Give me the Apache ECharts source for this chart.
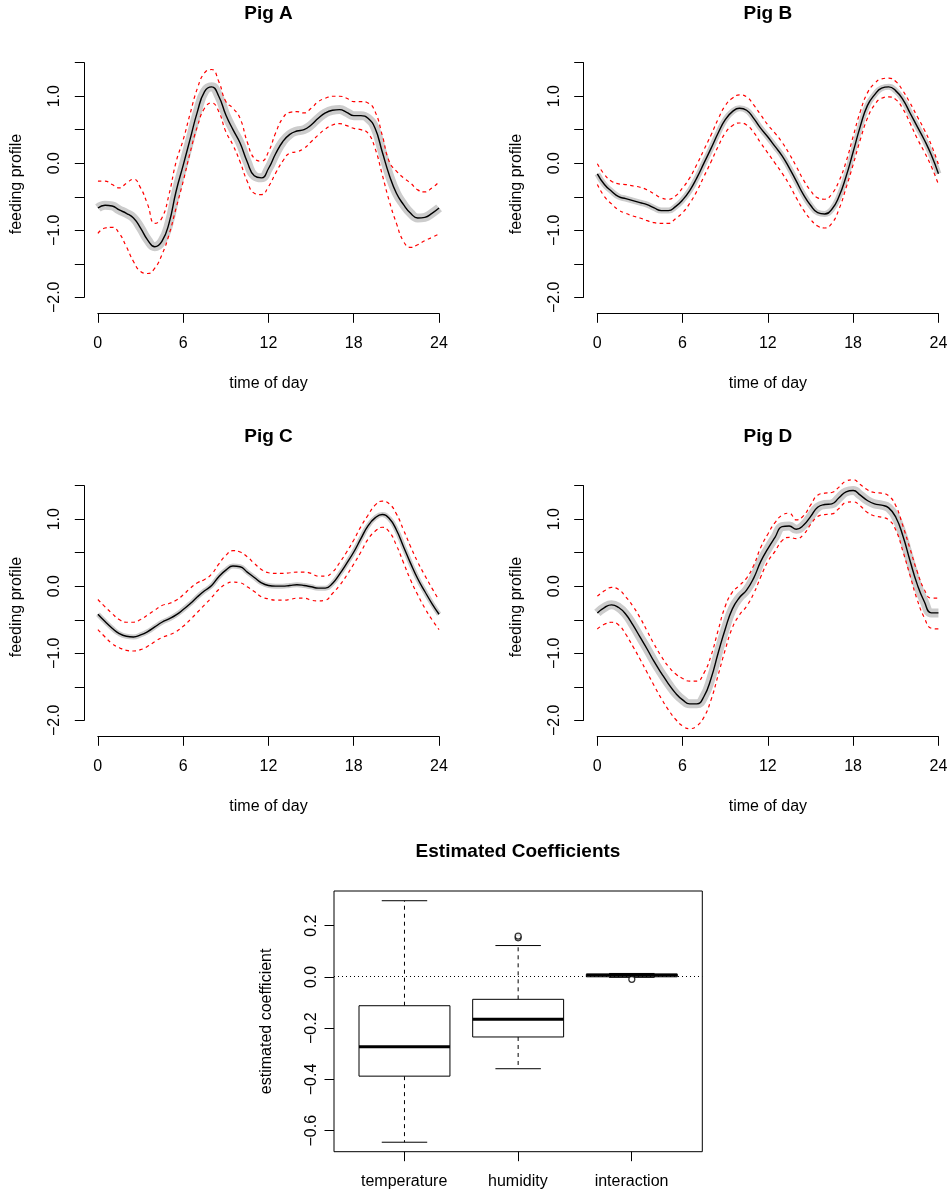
<!DOCTYPE html>
<html>
<head>
<meta charset="utf-8">
<title>Pig feeding profiles</title>
<script src="https://cdn.jsdelivr.net/npm/echarts@6.0.0/dist/echarts.min.js"></script>
<style>
  html, body { margin: 0; padding: 0; background: #fff; }
  #main { width: 952px; height: 1194px; }
</style>
</head>
<body>
<div id="main"></div>
<script>
// time of day (hours), read every half hour
const hours = [0, 0.5, 1, 1.5, 2, 2.5, 3, 3.5, 4, 4.5, 5, 5.5, 6, 6.5, 7, 7.5, 8, 8.5, 9, 9.5,
  10, 10.5, 11, 11.5, 12, 12.5, 13, 13.5, 14, 14.5, 15, 15.5, 16, 16.5, 17, 17.5, 18, 18.5, 19, 19.5,
  20, 20.5, 21, 21.5, 22, 22.5, 23, 23.5, 24];

// Pig A: estimate and dashed bounds
const meanA = [-0.67, -0.63, -0.64, -0.7, -0.75, -0.82, -0.97, -1.15, -1.25, -1.17,
  -0.9, -0.42, -0.03, 0.37, 0.77, 1.07, 1.14, 1.0, 0.72, 0.5,
  0.3, 0.02, -0.19, -0.22, -0.08, 0.14, 0.32, 0.43, 0.48, 0.5,
  0.57, 0.67, 0.75, 0.79, 0.8, 0.76, 0.71, 0.71, 0.67, 0.52,
  0.17, -0.18, -0.45, -0.62, -0.75, -0.82, -0.81, -0.75, -0.67];
const upperA = [-0.27, -0.27, -0.32, -0.37, -0.3, -0.24, -0.37, -0.62, -0.9, -0.82,
  -0.47, 0.02, 0.35, 0.75, 1.12, 1.35, 1.4, 1.22, 0.92, 0.82,
  0.67, 0.32, 0.07, 0.03, 0.17, 0.45, 0.67, 0.76, 0.77, 0.75,
  0.82, 0.92, 0.97, 1.0, 1.0, 0.97, 0.92, 0.92, 0.9, 0.77,
  0.42, 0.02, -0.12, -0.22, -0.3, -0.4, -0.43, -0.37, -0.28];
const lowerA = [-1.05, -0.97, -0.96, -1.05, -1.25, -1.47, -1.62, -1.65, -1.57, -1.37,
  -1.07, -0.67, -0.27, 0.17, 0.55, 0.82, 0.9, 0.77, 0.47, 0.27,
  0.02, -0.27, -0.45, -0.47, -0.35, -0.15, 0.03, 0.15, 0.17, 0.22,
  0.32, 0.42, 0.51, 0.57, 0.59, 0.56, 0.52, 0.5, 0.45, 0.22,
  -0.17, -0.57, -0.9, -1.17, -1.26, -1.22, -1.16, -1.11, -1.06];

// Pig B
const meanB = [-0.16, -0.32, -0.42, -0.5, -0.53, -0.56, -0.59, -0.62, -0.67, -0.71,
  -0.71, -0.65, -0.55, -0.41, -0.22, 0.0, 0.22, 0.45, 0.65, 0.77,
  0.82, 0.79, 0.67, 0.52, 0.39, 0.25, 0.11, -0.07, -0.27, -0.47,
  -0.63, -0.74, -0.76, -0.69, -0.5, -0.2, 0.17, 0.55, 0.86, 1.02,
  1.12, 1.14, 1.08, 0.95, 0.75, 0.55, 0.35, 0.12, -0.16];
const upperB = [-0.01, -0.17, -0.27, -0.31, -0.32, -0.34, -0.36, -0.4, -0.46, -0.52,
  -0.54, -0.49, -0.37, -0.22, -0.02, 0.2, 0.42, 0.66, 0.86, 0.97,
  1.02, 0.99, 0.87, 0.72, 0.57, 0.45, 0.31, 0.14, -0.05, -0.25,
  -0.41, -0.52, -0.54, -0.46, -0.27, 0.02, 0.4, 0.77, 1.05, 1.19,
  1.26, 1.27, 1.22, 1.08, 0.9, 0.7, 0.5, 0.27, -0.02];
const lowerB = [-0.32, -0.5, -0.61, -0.7, -0.75, -0.79, -0.82, -0.86, -0.89, -0.9,
  -0.9, -0.83, -0.74, -0.6, -0.42, -0.2, 0.02, 0.25, 0.45, 0.56,
  0.6, 0.57, 0.46, 0.3, 0.15, 0.0, -0.15, -0.32, -0.52, -0.7,
  -0.84, -0.94, -0.97, -0.9, -0.69, -0.37, -0.02, 0.35, 0.67, 0.87,
  0.97, 0.99, 0.95, 0.81, 0.6, 0.37, 0.17, -0.05, -0.32];

// Pig C
const meanC = [-0.42, -0.53, -0.63, -0.71, -0.75, -0.76, -0.73, -0.68, -0.61, -0.54,
  -0.49, -0.43, -0.35, -0.26, -0.16, -0.07, 0.01, 0.14, 0.24, 0.3,
  0.29, 0.21, 0.13, 0.05, 0.01, 0.0, 0.0, 0.01, 0.02, 0.01,
  -0.01, -0.03, -0.03, 0.04, 0.18, 0.34, 0.51, 0.71, 0.9, 1.02,
  1.07, 1.01, 0.84, 0.59, 0.34, 0.11, -0.08, -0.26, -0.42];
const upperC = [-0.2, -0.31, -0.41, -0.5, -0.54, -0.54, -0.5, -0.43, -0.36, -0.29,
  -0.26, -0.21, -0.13, -0.03, 0.05, 0.1, 0.18, 0.33, 0.46, 0.53,
  0.51, 0.44, 0.34, 0.25, 0.2, 0.19, 0.19, 0.2, 0.21, 0.21,
  0.19, 0.15, 0.15, 0.21, 0.35, 0.51, 0.69, 0.89, 1.06, 1.21,
  1.27, 1.23, 1.08, 0.84, 0.59, 0.36, 0.16, -0.03, -0.21];
const lowerC = [-0.65, -0.76, -0.86, -0.92, -0.96, -0.97, -0.95, -0.9, -0.83, -0.77,
  -0.73, -0.68, -0.6, -0.5, -0.39, -0.28, -0.17, -0.05, 0.03, 0.06,
  0.05, -0.01, -0.08, -0.16, -0.19, -0.21, -0.21, -0.2, -0.18, -0.18,
  -0.21, -0.22, -0.21, -0.11, 0.01, 0.16, 0.33, 0.51, 0.7, 0.82,
  0.88, 0.81, 0.61, 0.35, 0.09, -0.13, -0.33, -0.5, -0.65];

// Pig D
const meanD = [-0.4, -0.32, -0.28, -0.32, -0.42, -0.58, -0.76, -0.94, -1.13, -1.3,
  -1.46, -1.6, -1.7, -1.76, -1.76, -1.65, -1.38, -1.0, -0.64, -0.34,
  -0.17, -0.06, 0.12, 0.37, 0.56, 0.73, 0.89, 0.9, 0.85, 0.91,
  1.04, 1.18, 1.22, 1.23, 1.32, 1.41, 1.43, 1.36, 1.28, 1.23,
  1.21, 1.17, 1.03, 0.75, 0.38, 0.03, -0.23, -0.4, -0.4];
const upperD = [-0.15, -0.07, -0.02, -0.05, -0.16, -0.3, -0.47, -0.67, -0.87, -1.05,
  -1.2, -1.31, -1.38, -1.42, -1.42, -1.3, -1.04, -0.66, -0.3, -0.09,
  0.01, 0.12, 0.31, 0.58, 0.78, 0.95, 1.06, 1.09, 0.99, 1.05,
  1.21, 1.36, 1.39, 1.4, 1.48, 1.57, 1.59, 1.52, 1.44, 1.4,
  1.39, 1.35, 1.2, 0.9, 0.56, 0.22, -0.05, -0.18, -0.18];
const lowerD = [-0.64, -0.57, -0.54, -0.58, -0.72, -0.9, -1.09, -1.29, -1.49, -1.68,
  -1.85, -1.99, -2.09, -2.13, -2.09, -1.96, -1.7, -1.33, -0.95, -0.62,
  -0.43, -0.3, -0.11, 0.14, 0.37, 0.52, 0.68, 0.73, 0.71, 0.77,
  0.92, 1.04, 1.07, 1.08, 1.16, 1.25, 1.26, 1.2, 1.1, 1.05,
  1.03, 0.99, 0.84, 0.52, 0.16, -0.2, -0.47, -0.63, -0.64];

// Boxplot: [lower whisker, Q1, median, Q3, upper whisker]
const boxCategories = ['temperature', 'humidity', 'interaction'];
const boxTemperature = [-0.648, -0.39, -0.275, -0.115, 0.295];
const boxHumidity = [-0.361, -0.237, -0.168, -0.09, 0.12];
const boxInteraction = [-0.004, -0.002, 0.005, 0.008, 0.011];
const outlierHumidity = [0.15, 0.157];
const outlierInteraction = [-0.012];

const FONT = '"Liberation Sans", Arial, Helvetica, sans-serif';
const txt = (size, weight) => ({ fontFamily: FONT, fontSize: size, fontWeight: weight || 'normal', color: '#000' });
// R prints a real minus sign
const num = v => (Math.abs(v) < 1e-9 ? '0.0' : v.toFixed(1).replace('-', '\u2212'));

const grid = [], xAxis = [], yAxis = [], series = [], title = [];

const hidden = {
  axisLine: { show: false }, axisTick: { show: false },
  axisLabel: { show: false }, splitLine: { show: false }
};

// one pig panel; axisX = where the y axis sits, dy = row offset
function addPanel(name, mean, upper, lower, bandWidth, axisX, dy) {
  const zeroX = axisX + 13.5;
  title.push({ text: name, left: axisX + 184.2, top: 4 + dy, textAlign: 'center', padding: 0, textStyle: txt(19, 'bold') });

  // plotting region (R adds 4% on each side)
  const g = grid.length;
  grid.push({ left: axisX, top: 54.7 + dy, width: 368.4, height: 258.6, outerBoundsMode: 'none' });
  xAxis.push(Object.assign({
    gridIndex: g, type: 'value', min: -0.96, max: 24.96,
    name: 'time of day', nameLocation: 'middle', nameGap: 62, nameTextStyle: txt(16)
  }, hidden));
  yAxis.push(Object.assign({
    gridIndex: g, type: 'value', min: -2.245, max: 1.621,
    name: 'feeding profile', nameLocation: 'middle', nameGap: 59.6, nameTextStyle: txt(16)
  }, hidden));

  const pts = arr => hours.map((h, i) => [h, arr[i]]);
  const base = { type: 'line', xAxisIndex: g, yAxisIndex: g, smooth: 0.5, showSymbol: false, silent: true };
  // grey confidence band
  series.push(Object.assign({}, base, { data: pts(mean), z: 1, lineStyle: { color: '#cccccc', width: bandWidth } }));
  series.push(Object.assign({}, base, { data: pts(upper), z: 2, lineStyle: { color: '#ff0000', width: 1.2, type: [3.5, 3.5] } }));
  series.push(Object.assign({}, base, { data: pts(lower), z: 2, lineStyle: { color: '#ff0000', width: 1.2, type: [3.5, 3.5] } }));
  series.push(Object.assign({}, base, { data: pts(mean), z: 3, lineStyle: { color: '#000', width: 1.4 } }));

  // y axis, drawn only from -2 to 1.5 like R
  const gy = grid.length;
  grid.push({ left: axisX, top: 62.7 + dy, width: 1, height: 234.6, outerBoundsMode: 'none' });
  xAxis.push({ gridIndex: gy, type: 'value', show: false });
  yAxis.push({
    gridIndex: gy, type: 'value', min: -2, max: 1.5, interval: 0.5,
    axisLine: { show: true, onZero: false, lineStyle: { color: '#000', width: 1 } },
    axisTick: { length: 9.5, lineStyle: { color: '#000' } },
    axisLabel: Object.assign({ rotate: 90, margin: 21.5, showMinLabel: true, showMaxLabel: true,
      formatter: v => (Number.isInteger(v) ? num(v) : '') }, txt(16)),
    splitLine: { show: false }
  });

  // x axis 0..24
  const gx = grid.length;
  grid.push({ left: zeroX, top: 312.3 + dy, width: 341.2, height: 1, outerBoundsMode: 'none' });
  xAxis.push({
    gridIndex: gx, type: 'value', min: 0, max: 24, interval: 6, position: 'bottom',
    axisLine: { show: true, onZero: false, lineStyle: { color: '#000', width: 1 } },
    axisTick: { length: 9.5, lineStyle: { color: '#000' } },
    axisLabel: Object.assign({ margin: 22, showMinLabel: true, showMaxLabel: true }, txt(16)),
    splitLine: { show: false }
  });
  yAxis.push({ gridIndex: gx, type: 'value', show: false });
}

addPanel('Pig A', meanA, upperA, lowerA, 9, 84.3, 0);
addPanel('Pig B', meanB, upperB, lowerB, 6, 583.7, 0);
addPanel('Pig C', meanC, upperC, lowerC, 5, 84.3, 423);
addPanel('Pig D', meanD, upperD, lowerD, 9, 583.7, 423);

// ---- Estimated Coefficients boxplot ----
title.push({ text: 'Estimated Coefficients', left: 518, top: 842, textAlign: 'center', padding: 0, textStyle: txt(19, 'bold') });

const gb = grid.length;
grid.push({ left: 334, top: 891, width: 368.3, height: 260.7, show: true, borderColor: '#000', borderWidth: 1, backgroundColor: 'transparent', outerBoundsMode: 'none' });
xAxis.push(Object.assign({ gridIndex: gb, type: 'value', min: 0.38, max: 3.62 }, hidden));
yAxis.push(Object.assign({
  gridIndex: gb, type: 'value', min: -0.685, max: 0.333,
  name: 'estimated coefficient', nameLocation: 'middle', nameGap: 59, nameTextStyle: txt(16)
}, hidden));

const boxes = [boxTemperature, boxHumidity, boxInteraction].map((b, i) => [i + 1].concat(b));

series.push({
  type: 'custom', xAxisIndex: gb, yAxisIndex: gb, silent: true, z: 3,
  encode: { x: 0, y: [1, 2, 3, 4, 5] },
  data: boxes,
  renderItem: function (params, api) {
    const x = api.value(0);
    const py = i => api.coord([x, api.value(i)])[1];
    const px = d => api.coord([x + d, 0])[0];
    const cx = px(0), bl = px(-0.4), br = px(0.4), cl = px(-0.2), cr = px(0.2);
    const lo = py(1), q1 = py(2), med = py(3), q3 = py(4), hi = py(5);
    const solid = { stroke: '#000', lineWidth: 1 };
    const dashed = { stroke: '#000', lineWidth: 1, lineDash: [4, 4] };
    return {
      type: 'group',
      children: [
        { type: 'line', shape: { x1: cx, y1: q3, x2: cx, y2: hi }, style: dashed },
        { type: 'line', shape: { x1: cx, y1: q1, x2: cx, y2: lo }, style: dashed },
        { type: 'line', shape: { x1: cl, y1: hi, x2: cr, y2: hi }, style: solid },
        { type: 'line', shape: { x1: cl, y1: lo, x2: cr, y2: lo }, style: solid },
        { type: 'rect', shape: { x: bl, y: q3, width: br - bl, height: q1 - q3 }, style: { stroke: '#000', fill: '#fff', lineWidth: 1 } },
        { type: 'line', shape: { x1: bl, y1: med, x2: br, y2: med }, style: { stroke: '#000', lineWidth: 3 } }
      ]
    };
  }
});

// outliers, plus the dotted zero line
series.push({
  type: 'scatter', xAxisIndex: gb, yAxisIndex: gb, silent: true, z: 4,
  symbol: 'circle', symbolSize: 6,
  itemStyle: { color: '#fff', borderColor: '#000', borderWidth: 1.2 },
  data: outlierHumidity.map(v => [2, v]).concat(outlierInteraction.map(v => [3, v])),
  markLine: {
    silent: true, symbol: ['none', 'none'], label: { show: false },
    lineStyle: { color: '#000', width: 1, type: [1, 3] },
    data: [{ yAxis: 0 }]
  }
});

// y ticks of the boxplot
const gby = grid.length;
grid.push({ left: 334, top: 925.7, width: 1, height: 205, outerBoundsMode: 'none' });
xAxis.push({ gridIndex: gby, type: 'value', show: false });
yAxis.push({
  gridIndex: gby, type: 'value', min: -0.6, max: 0.2, interval: 0.2,
  axisLine: { show: false, onZero: false },
  axisTick: { show: true, length: 9.5, lineStyle: { color: '#000' } },
  axisLabel: Object.assign({ rotate: 90, margin: 14.3, showMinLabel: true, showMaxLabel: true, formatter: num }, txt(16)),
  splitLine: { show: false }
});

// category ticks under the boxes
const gbx = grid.length;
grid.push({ left: 347.3, top: 1150.7, width: 341.1, height: 1, outerBoundsMode: 'none' });
xAxis.push({
  gridIndex: gbx, type: 'category', data: boxCategories, position: 'bottom',
  axisLine: { show: false, onZero: false },
  axisTick: { show: true, alignWithLabel: true, length: 9.5, lineStyle: { color: '#000' } },
  axisLabel: Object.assign({ margin: 22, interval: 0 }, txt(16)),
  splitLine: { show: false }
});
yAxis.push({ gridIndex: gbx, type: 'value', show: false });

const chart = echarts.init(document.getElementById('main'), null, { renderer: 'canvas' });
chart.setOption({
  backgroundColor: '#fff',
  animation: false,
  title: title,
  grid: grid,
  xAxis: xAxis,
  yAxis: yAxis,
  series: series
});
</script>
</body>
</html>
